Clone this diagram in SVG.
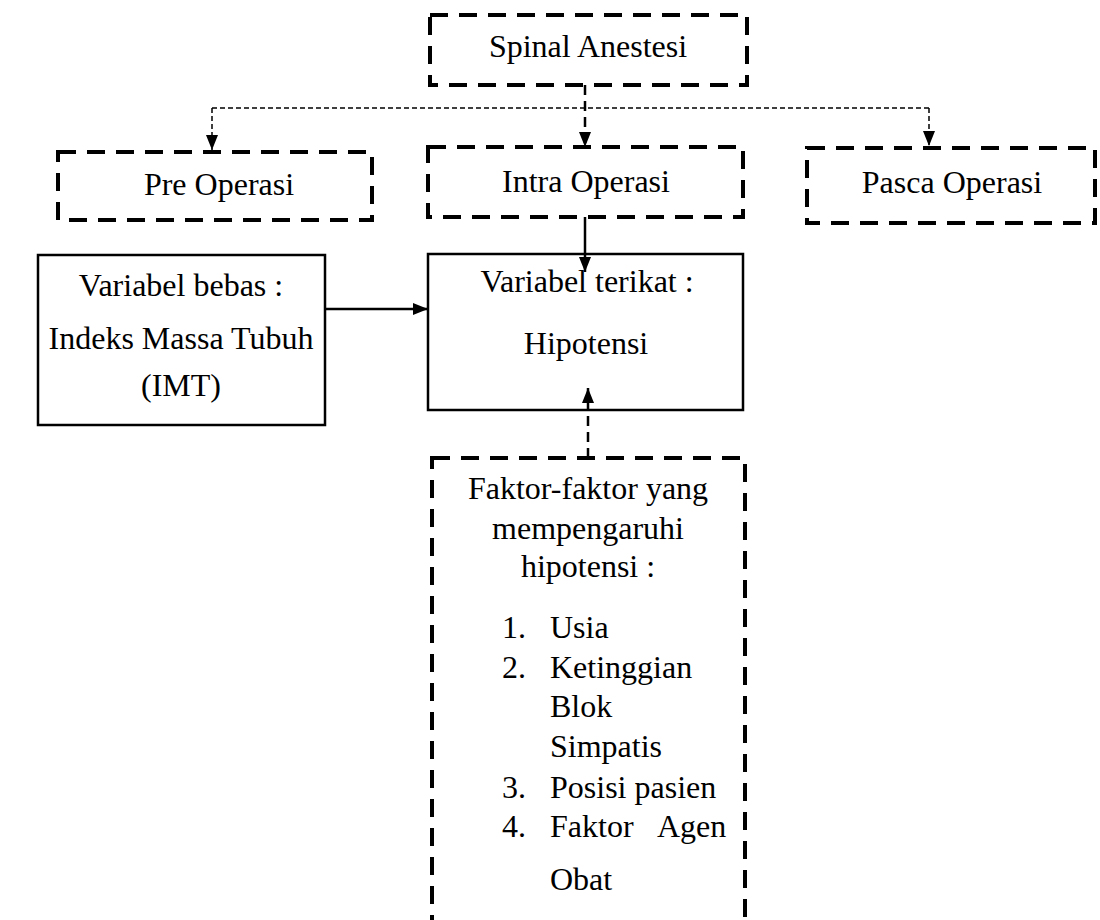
<svg xmlns="http://www.w3.org/2000/svg" width="1100" height="920" viewBox="0 0 1100 920">
<style>
  text { font-family: "Liberation Serif", "Times New Roman", serif; font-size: 32px; fill: #000; }
  .c { text-anchor: middle; }
  .dbox { fill: none; stroke: #000; stroke-width: 4; stroke-dasharray: 18 11; }
  .sbox { fill: none; stroke: #000; stroke-width: 2.5; }
  .thin { fill: none; stroke: #000; stroke-width: 1.5; stroke-dasharray: 5 3; }
  .med { fill: none; stroke: #000; stroke-width: 2.5; stroke-dasharray: 10 6; }
  .solid { fill: none; stroke: #000; stroke-width: 2.5; }
</style>
<defs>
  <marker id="arrow" viewBox="0 0 15 12" refX="15" refY="6" markerWidth="15" markerHeight="12" markerUnits="userSpaceOnUse" orient="auto">
    <path d="M0,0 L15,6 L0,12 z" fill="#000"/>
  </marker>
</defs>
<rect width="1100" height="920" fill="#fff"/>

<g id="connectors">
  <path class="thin" d="M212,108 H929"/>
  <path class="thin" d="M212,108 V150" marker-end="url(#arrow)"/>
  <path class="thin" d="M929,108 V146" marker-end="url(#arrow)"/>
  <path class="med" d="M585,85 V147" marker-end="url(#arrow)"/>
  <path class="solid" d="M585,217 V272" marker-end="url(#arrow)"/>
  <path class="solid" d="M325,309 H428" marker-end="url(#arrow)"/>
  <path class="med" d="M588,458 V388" marker-end="url(#arrow)"/>
</g>

<g id="spinal-anestesi">
  <rect class="dbox" x="430" y="15" width="317" height="70"/>
  <text class="c" x="588" y="57">Spinal Anestesi</text>
</g>

<g id="pre-operasi">
  <rect class="dbox" x="58" y="152" width="314" height="68"/>
  <text class="c" x="219" y="195">Pre Operasi</text>
</g>

<g id="intra-operasi">
  <rect class="dbox" x="428" y="147" width="315" height="70"/>
  <text class="c" x="586" y="192">Intra Operasi</text>
</g>

<g id="pasca-operasi">
  <rect class="dbox" x="807" y="148" width="288" height="75"/>
  <text class="c" x="952" y="193">Pasca Operasi</text>
</g>

<g id="variabel-bebas">
  <rect class="sbox" x="38" y="255" width="287" height="170"/>
  <text class="c" x="181" y="296">Variabel bebas :</text>
  <text class="c" x="181" y="349">Indeks Massa Tubuh</text>
  <text class="c" x="181" y="396">(IMT)</text>
</g>

<g id="variabel-terikat">
  <rect class="sbox" x="428" y="254" width="315" height="156"/>
  <text class="c" x="587" y="292">Variabel terikat :</text>
  <text class="c" x="586" y="354">Hipotensi</text>
</g>

<g id="faktor">
  <rect class="dbox" x="432" y="458" width="313" height="490"/>
  <text class="c" x="588" y="499">Faktor-faktor yang</text>
  <text class="c" x="588" y="539">mempengaruhi</text>
  <text class="c" x="588" y="577">hipotensi :</text>
  <text x="502" y="638">1.</text><text x="550" y="638">Usia</text>
  <text x="502" y="678">2.</text><text x="550" y="678">Ketinggian</text>
  <text x="550" y="717">Blok</text>
  <text x="550" y="757">Simpatis</text>
  <text x="502" y="798">3.</text><text x="550" y="798">Posisi pasien</text>
  <text x="502" y="837">4.</text><text y="837"><tspan x="550">Faktor</tspan> <tspan x="657">Agen</tspan></text>
  <text x="550" y="890">Obat</text>
</g>
</svg>
